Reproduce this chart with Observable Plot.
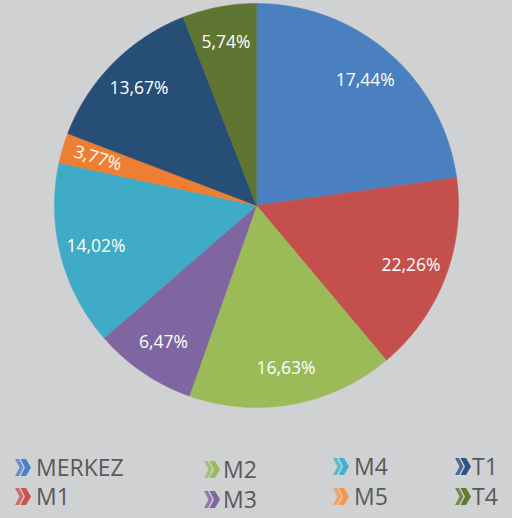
<!DOCTYPE html>
<html><head><meta charset="utf-8">
<script src="https://cdn.jsdelivr.net/npm/d3@7"></script>
<script src="https://cdn.jsdelivr.net/npm/@observablehq/plot@0.6"></script>
<style>
html,body{margin:0;padding:0;background:#d0d1d3;}
body{width:512px;height:518px;overflow:hidden;position:relative;font-family:"Open Sans",sans-serif;}
#chart{position:absolute;left:0;top:0;}
#legend{position:absolute;left:0;top:410px;}
</style></head><body>
<div id="chart"></div>
<div id="legend"></div>
<script>
// Categories (clockwise from 12 o'clock)
const names = ["MERKEZ","M1","M2","M3","M4","M5","T1","T4"];
// Slice shares as drawn in the picture (percent)
const shares = [22.8,16.1,16.5,8.2,14.8,2.4,13.3,5.9];
// Printed data labels
const labels = ["17,44%","22,26%","16,63%","6,47%","14,02%","3,77%","13,67%","5,74%"];
const colors = ["#4a80bf","#c4504d","#9bbb59","#8066a1","#3fabc6","#ee7f32","#264e77","#5f7632"];
const legendColors = ["#4a80cc","#d0504d","#9bbb59","#8066a1","#3fb3d0","#f79646","#2b5585","#5f7a32"];
// Legend layout: column and row for each category
const legendCol = [0,0,1,1,2,2,3,3];
const legendRow = [0,1,0,1,0,1,0,1];

const total = d3.sum(shares);
let acc = 0;
const slices = names.map((n, i) => {
  const a0 = acc / total * 2 * Math.PI;
  acc += shares[i];
  const a1 = acc / total * 2 * Math.PI;
  return {name: n, a0, a1, label: labels[i]};
});

const pts = [];
for (const s of slices) {
  pts.push({name: s.name, x: 0, y: 0});
  const n = Math.max(2, Math.ceil((s.a1 - s.a0) / 0.005));
  for (let k = 0; k <= n; k++) {
    const a = s.a0 + (s.a1 - s.a0) * k / n;
    pts.push({name: s.name, x: Math.sin(a), y: Math.cos(a)});
  }
}

const labelPts = slices.map(s => {
  const m = (s.a0 + s.a1) / 2;
  const deg = m * 180 / Math.PI;
  return {
    text: s.label,
    x: 0.82 * Math.sin(m),
    y: 0.82 * Math.cos(m),
    rot: s.name === "M5" ? deg - 270 : 0
  };
});

const sdom = 1.0149;
const chart = Plot.plot({
  width: 512,
  height: 410,
  marginLeft: 51,
  marginRight: 51,
  marginTop: 0,
  marginBottom: 0,
  x: {domain: [-sdom, sdom], axis: null},
  y: {domain: [-sdom, sdom], axis: null},
  color: {domain: names, range: colors},
  style: {background: "transparent"},
  marks: [
    Plot.line(pts, {x: "x", y: "y", z: "name", fill: "name", stroke: "name", strokeWidth: 0.6, curve: "linear-closed"}),
    Plot.text(labelPts, {x: "x", y: "y", text: "text", rotate: "rot", fill: "white", fontSize: 17.5, fontFamily: "Open Sans"})
  ]
});
document.getElementById("chart").appendChild(chart);

// Legend
const iconX = [15, 204, 333, 455];
const textX = [36, 223, 354, 472];
const baseY = [[66, 95], [68, 98], [65, 95], [65, 95]];
const svg = d3.select("#legend").append("svg").attr("width", 512).attr("height", 108);
names.forEach((n, i) => {
  const c = legendCol[i], r = legendRow[i];
  const by = baseY[c][r];
  const g = svg.append("g").attr("transform", `translate(${iconX[c]},${by - 17})`);
  g.append("path").attr("d", "M0,0 L4,0 L8.5,8.5 L4,17 L0,17 L4.5,8.5 Z")
    .attr("fill", legendColors[i]).attr("opacity", 0.8);
  g.append("path").attr("d", "M5.5,0 L11,0 L16,8.5 L11,17 L5.5,17 L10,8.5 Z")
    .attr("fill", legendColors[i]);
  svg.append("text").attr("x", textX[c]).attr("y", by)
    .attr("fill", "#595959").attr("font-size", 23).attr("font-family", "Open Sans")
    .text(n);
});
</script>
</body></html>
